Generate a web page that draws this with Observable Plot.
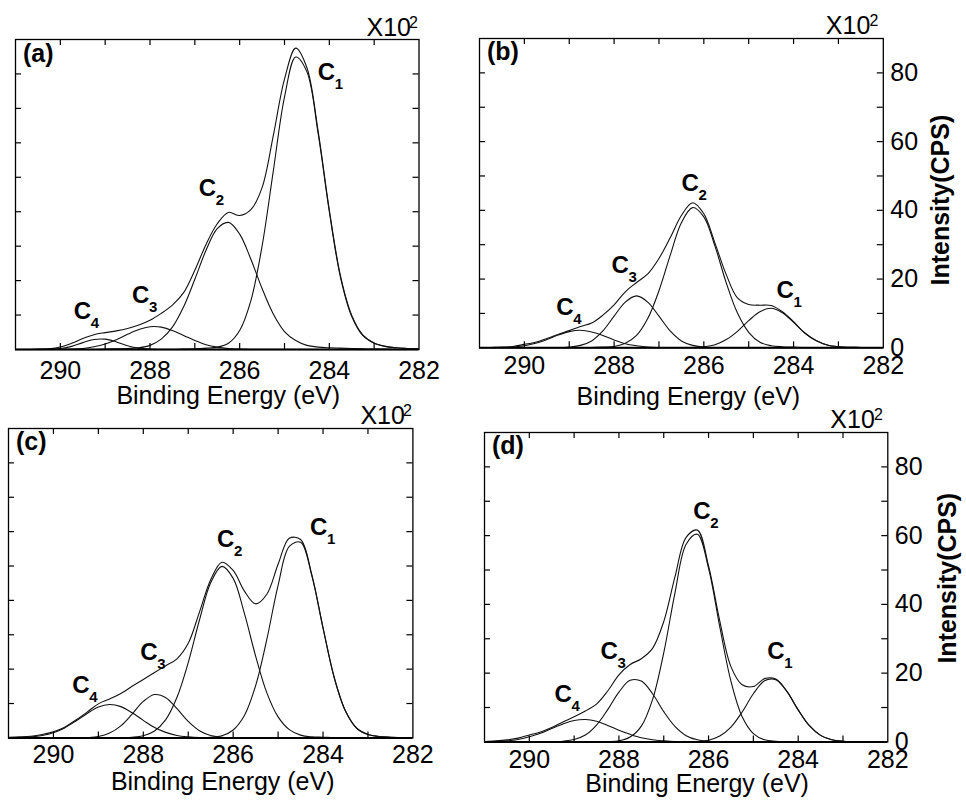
<!DOCTYPE html>
<html><head><meta charset="utf-8">
<script src="https://cdn.jsdelivr.net/npm/d3@7"></script>
<script src="https://cdn.jsdelivr.net/npm/@observablehq/plot@0.6"></script>
<style>
html,body{margin:0;padding:0;background:#fff;}
#wrap{position:relative;width:966px;height:802px;overflow:hidden;background:#fff;}
#wrap svg{position:absolute;}
</style></head><body><div id="wrap"></div>
<script>
// Binding energy grid (eV), shared by all panels
const energy = [291,290.75,290.5,290.25,290,289.75,289.5,289.25,289,288.75,288.5,288.25,288,287.75,287.5,287.25,287,286.75,286.5,286.25,286,285.75,285.5,285.25,285,284.75,284.5,284.25,284,283.75,283.5,283.25,283,282.75,282.5,282.25,282];

const xTickLabels = [290,288,286,284,282];
const xMinorTicks = [290,289,288,287,286,285,284,283];
const yTicks = [10,20,30,40,50,60,70,80];
const yTickLabels = [0,20,40,60,80];
const peakNames = ["1","2","3","4"];

// Panel (a) intensities (x10^2 CPS)
const aEnvelope = [0,0,0.1,0.2,0.7,1.8,3.2,4.3,4.9,5.4,6.1,7.1,8.5,10.5,12.9,16.5,23,30.5,36.5,39.8,38.9,40.6,47,62.1,78.5,87.5,81.8,63.4,40.5,21.3,9.9,4.2,1.9,0.9,0.5,0.3,0.2];
const aC1 = [0,0,0,0,0,0,0,0,0,0,0,0,0,0,0,0.1,0.2,0.4,0.7,1.8,5.5,14.2,30.0,51.8,73.3,84.9,80.6,62.7,40.0,20.9,9.6,4.0,1.8,0.9,0.5,0.3,0.2];
const aC2 = [0,0,0,0,0,0,0,0,0.1,0.2,0.3,0.5,1.2,3.0,6.5,12.4,20.4,28.8,35.1,36.9,33.5,26.2,17.7,10.3,5.2,2.6,1.2,0.7,0.5,0.4,0.3,0.2,0.1,0.1,0,0,0];
const aC3 = [0,0,0,0,0,0.1,0.3,0.8,1.6,2.8,4.4,5.8,6.6,6.5,5.5,4.1,2.6,1.4,0.7,0.3,0.1,0,0,0,0,0,0,0,0,0,0,0,0,0,0,0,0];
const aC4 = [0,0,0,0.1,0.3,0.9,2.0,2.9,3.0,2.2,1.1,0.4,0.1,0,0,0,0,0,0,0,0,0,0,0,0,0,0,0,0,0,0,0,0,0,0,0,0];
const aLabelEnergy = [284.26,286.91,288.40,289.70];
const aLabelIntensity = [78.1,44.7,13.6,9.0];

// Panel (b)
const bEnvelope = [0,0.1,0.2,0.4,1.0,1.6,2.7,3.9,5.0,6.2,7.2,9.5,12.5,16.3,19.0,21.5,26,32,38.5,42.2,39,30.4,21.3,14.5,12.6,12.4,12.3,10.5,7.6,4.3,2.1,0.8,0.3,0.15,0.1,0,0];
const bC1 = [0,0,0,0,0,0,0,0,0,0,0,0,0,0,0,0,0,0,0,0.1,0.3,0.9,2.4,4.8,7.9,10.5,11.5,10.2,7.4,4.3,2.1,0.8,0.3,0.15,0.1,0,0];
const bC2 = [0,0,0,0,0,0,0,0,0,0,0.1,0.2,0.4,1.3,3.6,8.5,16.6,26.9,36.4,40.8,38.1,29.5,18.9,10.1,4.5,1.6,0.6,0.3,0.2,0.1,0.1,0,0,0,0,0,0];
const bC3 = [0,0,0,0,0,0,0,0,0.2,0.7,2.0,4.9,9.2,13.3,15.1,13.3,9.2,4.9,2.0,0.7,0.2,0,0,0,0,0,0,0,0,0,0,0,0,0,0,0,0];
const bC4 = [0,0,0.1,0.2,0.6,1.3,2.4,3.7,4.7,5.1,4.6,3.6,2.3,1.2,0.6,0.2,0.1,0.1,0,0,0,0,0,0,0,0,0,0,0,0,0,0,0,0,0,0,0];
const bLabelEnergy = [284.38,286.50,288.06,289.29];
const bLabelIntensity = [14.6,45.6,21.8,9.4];

// Panel (c)
const cEnvelope = [0.2,0.3,0.5,1.0,1.8,3.1,5.2,7.5,9.9,11.3,12.9,15,17,19,21,23,27.5,36.6,46.0,51.1,48.7,42.7,39.0,41.8,50.5,58.1,57.7,47.5,32.1,17.5,7.8,2.8,1.0,0.4,0.2,0.1,0];
const cC1 = [0,0,0,0,0,0,0,0,0,0,0,0,0,0,0,0,0,0.1,0.2,0.6,2.3,6.5,15.2,28.7,44.4,55.7,56.9,47.2,31.9,17.5,7.8,2.8,1.0,0.4,0.2,0.1,0];
const cC2 = [0,0,0,0,0,0,0,0,0,0,0.1,0.2,0.6,2.0,5.3,11.8,21.9,34.3,45.1,49.9,46.4,36.2,23.8,13.1,6.1,2.4,0.8,0.3,0.2,0.1,0.1,0,0,0,0,0,0];
const cC3 = [0,0,0,0,0,0,0,0.1,0.4,1.4,3.5,6.9,10.6,12.6,11.7,8.5,4.8,2.1,0.7,0.2,0,0,0,0,0,0,0,0,0,0,0,0,0,0,0,0,0];
const cC4 = [0.1,0.1,0.3,0.7,1.5,2.9,4.9,7.1,9.0,9.7,9.1,7.3,5.1,3.0,1.6,0.7,0.3,0.1,0.1,0,0,0,0,0,0,0,0,0,0,0,0,0,0,0,0,0,0];
const cLabelEnergy = [284.29,286.36,288.07,289.58];
const cLabelIntensity = [59.0,55.5,22.6,13.0];

// Panel (d)
const dEnvelope = [0.1,0.3,0.6,1.1,2.0,2.9,4.2,5.8,7.3,9.0,11.0,14.8,19.5,22.5,24.2,27.2,35,48,59.5,61.6,51.2,35.2,21.9,16.6,16.1,18.4,18.3,14.7,9.3,4.7,1.9,0.6,0.2,0.1,0,0,0];
const dC1 = [0,0,0,0,0,0,0,0,0,0,0,0,0,0,0,0,0,0,0,0.1,0.5,1.7,4.3,8.7,14.0,17.8,18.1,14.6,9.3,4.7,1.9,0.6,0.2,0.1,0,0,0];
const dC2 = [0,0,0,0,0,0,0,0,0,0,0,0.1,0.3,1.4,4.6,12.3,25.9,43.3,57.5,60.4,50.5,33.5,17.6,7.3,2.4,0.6,0.2,0.1,0,0,0,0,0,0,0,0,0];
const dC3 = [0,0,0,0,0,0,0,0.2,0.7,2.0,4.9,9.4,14.5,17.9,17.7,14.0,8.8,4.5,1.8,0.6,0.2,0,0,0,0,0,0,0,0,0,0,0,0,0,0,0,0];
const dC4 = [0.1,0.1,0.3,0.7,1.5,2.5,3.9,5.2,6.2,6.5,6.0,4.8,3.4,2.2,1.2,0.6,0.3,0.1,0.1,0,0,0,0,0,0,0,0,0,0,0,0,0,0,0,0,0,0];
const dLabelEnergy = [284.69,286.34,288.41,289.44];
const dLabelIntensity = [24.2,64.7,24.2,11.5];

const font = "'Liberation Sans', Arial, Helvetica, sans-serif";

// layout of each panel (pixel placement only)
const panels = [
  {id:"(a)", env:aEnvelope, comps:[aC1,aC2,aC3,aC4], lblE:aLabelEnergy, lblV:aLabelIntensity,
   L:14.5, T:39, W:403.5, H:310, right:false, tickDy:12, titleDy:54, titleDx:11, xdx:-8, sdx:-1},
  {id:"(b)", env:bEnvelope, comps:[bC1,bC2,bC3,bC4], lblE:bLabelEnergy, lblV:bLabelIntensity,
   L:479.2, T:38, W:403.8, H:309.3, right:true, tickDy:8, titleDy:57, titleDx:7, xdx:-13, sdx:-5, ydx:58, ydy:7},
  {id:"(c)", env:cEnvelope, comps:[cC1,cC2,cC3,cC4], lblE:cLabelEnergy, lblV:cLabelIntensity,
   L:8.3, T:428.3, W:404.4, H:309.4, right:false, tickDy:7.5, titleDy:52, titleDx:12, xdx:-8, sdx:-1},
  {id:"(d)", env:dEnvelope, comps:[dC1,dC2,dC3,dC4], lblE:dLabelEnergy, lblV:dLabelIntensity,
   L:484, T:432.3, W:403.3, H:309.4, right:true, tickDy:8.5, titleDy:50, titleDx:11, xdx:-13, sdx:-5, ydx:60, ydy:-9}
];

const wrap = document.getElementById("wrap");
const mL = 20, mR = 85, mT = 45, mB = 70;

for (const p of panels) {
  const rows = [];
  energy.forEach((E, i) => {
    rows.push({E, v: p.env[i], s: "envelope"});
    p.comps.forEach((c, k) => rows.push({E, v: c[i], s: "C" + (k + 1)}));
  });
  const labels = peakNames.map((n, k) => ({E: p.lblE[k], v: p.lblV[k], n}));
  const marks = [
    Plot.line(rows, {x: "E", y: "v", z: "s", stroke: "#111", strokeWidth: 1.1, curve: "catmull-rom", clip: true}),
    Plot.ruleX(xMinorTicks, {x: d => d, insetTop: p.H - 6, stroke: "black", strokeWidth: 1.2}),
    Plot.ruleX(xMinorTicks, {x: d => d, insetBottom: p.H - 6, stroke: "black", strokeWidth: 1.2}),
    Plot.ruleY(yTicks, {y: d => d, insetRight: p.W - 6, stroke: "black", strokeWidth: 1.2}),
    Plot.ruleY(yTicks, {y: d => d, insetLeft: p.W - 6, stroke: "black", strokeWidth: 1.2}),
    Plot.frame({stroke: "black", strokeWidth: 1.3}),
    Plot.ruleY([0], {stroke: "black", strokeWidth: 2}),
    Plot.text(xTickLabels, {x: d => d, text: d => String(d), frameAnchor: "bottom", lineAnchor: "top", dy: p.tickDy, fontSize: 25, fontFamily: font}),
    Plot.text(["Binding Energy (eV)"], {frameAnchor: "bottom", lineAnchor: "bottom", dy: p.titleDy, dx: p.titleDx, fontSize: 25, fontFamily: font}),
    Plot.text(["X10"], {frameAnchor: "top-right", textAnchor: "end", lineAnchor: "bottom", dx: p.xdx, dy: -4, fontSize: 25, fontFamily: font}),
    Plot.text(["2"], {frameAnchor: "top-right", textAnchor: "end", lineAnchor: "bottom", dx: p.sdx, dy: -12, fontSize: 16, fontFamily: font}),
    Plot.text([p.id], {frameAnchor: "top-left", textAnchor: "start", lineAnchor: "bottom", dx: 7.5, dy: 22, fontSize: 25, fontWeight: "bold", fontFamily: font}),
    Plot.text(labels, {x: "E", y: "v", text: () => "C", textAnchor: "start", lineAnchor: "bottom", fontSize: 24, fontWeight: "bold", fontFamily: font}),
    Plot.text(labels, {x: "E", y: "v", text: "n", textAnchor: "start", lineAnchor: "bottom", dx: 17, dy: 9, fontSize: 15, fontWeight: "bold", fontFamily: font})
  ];
  if (p.right) {
    marks.push(Plot.text(yTickLabels, {y: d => d, text: d => String(d), frameAnchor: "right", textAnchor: "start", lineAnchor: "middle", dx: 7, fontSize: 25, fontFamily: font}));
    marks.push(Plot.text(["Intensity(CPS)"], {frameAnchor: "right", rotate: -90, textAnchor: "middle", lineAnchor: "middle", dx: p.ydx, dy: p.ydy, fontSize: 25, fontWeight: "bold", fontFamily: font}));
  }
  const chart = Plot.plot({
    width: mL + p.W + mR, height: mT + p.H + mB,
    marginLeft: mL, marginRight: mR, marginTop: mT, marginBottom: mB,
    x: {domain: [291, 282], axis: null},
    y: {domain: [0, 90], axis: null},
    style: {background: "transparent", overflow: "visible", fontFamily: font},
    marks
  });
  chart.style.position = "absolute";
  chart.style.left = (p.L - mL) + "px";
  chart.style.top = (p.T - mT) + "px";
  chart.style.maxWidth = "none";
  wrap.appendChild(chart);
}
</script>
</body></html>
